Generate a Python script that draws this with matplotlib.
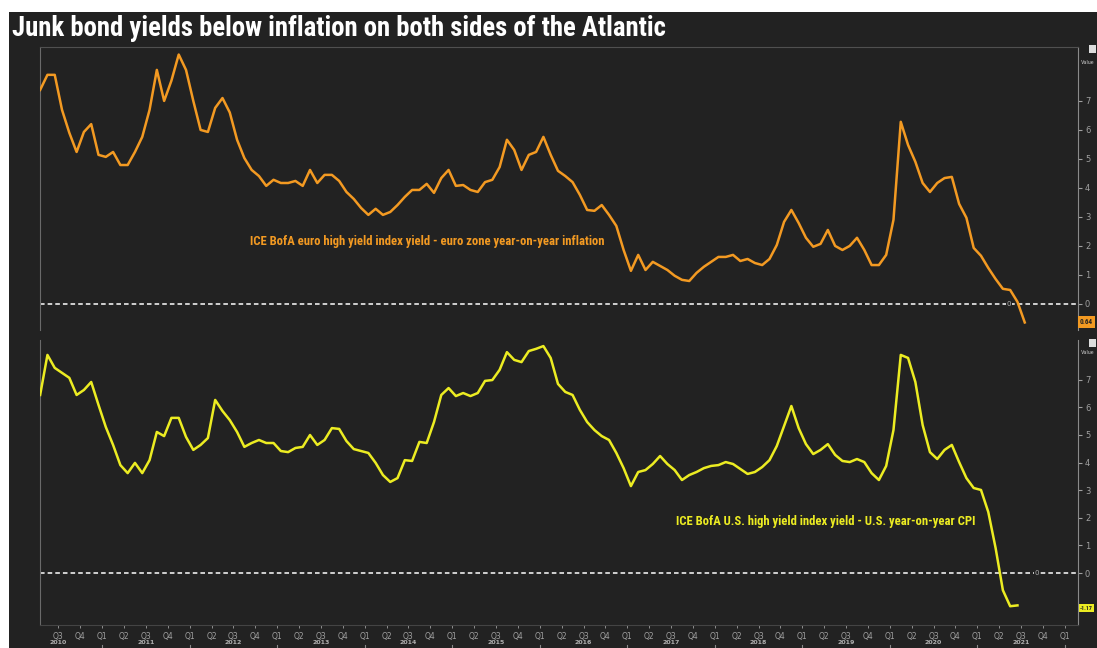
import matplotlib
matplotlib.use("Agg")
import matplotlib.pyplot as plt
import matplotlib.font_manager as fm
import matplotlib.transforms as mtransforms
from matplotlib.patches import Rectangle

# ---------------- data ----------------
title = "Junk bond yields below inflation on both sides of the Atlantic"
euro_label = "ICE BofA euro high yield index yield - euro zone year-on-year inflation"
us_label = "ICE BofA U.S. high yield index yield - U.S. year-on-year CPI"

start_year = 2010
start_month = 4  # April 2010, monthly observations

euro_spread = [
    7.38, 7.9, 7.9, 6.69, 5.9, 5.24, 5.93, 6.2, 5.14, 5.07,
    5.24, 4.79, 4.79, 5.24, 5.76, 6.69, 8.07, 7.0, 7.7, 8.6,
    8.07, 7.0, 6.0, 5.93, 6.76, 7.1, 6.6, 5.66, 5.03, 4.62,
    4.41, 4.07, 4.28, 4.17, 4.17, 4.24, 4.07, 4.62, 4.17, 4.45,
    4.45, 4.24, 3.86, 3.62, 3.31, 3.07, 3.28, 3.07, 3.17, 3.41,
    3.69, 3.93, 3.93, 4.14, 3.83, 4.34, 4.62, 4.07, 4.1, 3.93,
    3.86, 4.2, 4.28, 4.72, 5.66, 5.31, 4.62, 5.14, 5.24, 5.76,
    5.14, 4.59, 4.41, 4.2, 3.76, 3.24, 3.21, 3.41, 3.07, 2.69,
    1.86, 1.14, 1.69, 1.17, 1.45, 1.31, 1.17, 0.97, 0.83, 0.79,
    1.07, 1.28, 1.45, 1.62, 1.62, 1.69, 1.48, 1.55, 1.41, 1.34,
    1.55, 2.03, 2.83, 3.24, 2.79, 2.28, 1.97, 2.07, 2.55, 2.0,
    1.86, 2.0, 2.28, 1.86, 1.34, 1.34, 1.69, 2.9, 6.28, 5.48,
    4.9, 4.17, 3.86, 4.17, 4.34, 4.38, 3.45, 2.97, 1.93, 1.66,
    1.24, 0.86, 0.52, 0.48, 0.07, -0.64,
]

us_spread = [
    6.45, 7.9, 7.43, 7.25, 7.07, 6.45, 6.63, 6.92, 6.09, 5.29,
    4.64, 3.91, 3.62, 3.99, 3.62, 4.09, 5.11, 4.96, 5.62, 5.62,
    4.93, 4.46, 4.64, 4.89, 6.27, 5.87, 5.54, 5.11, 4.57, 4.71,
    4.82, 4.71, 4.71, 4.42, 4.38, 4.53, 4.57, 5.0, 4.64, 4.82,
    5.25, 5.22, 4.78, 4.49, 4.42, 4.35, 3.99, 3.55, 3.3, 3.44,
    4.09, 4.06, 4.75, 4.71, 5.47, 6.45, 6.7, 6.41, 6.52, 6.41,
    6.52, 6.96, 6.99, 7.36, 8.0, 7.72, 7.64, 8.04, 8.12, 8.22,
    7.79, 6.85, 6.56, 6.45, 5.91, 5.47, 5.18, 4.96, 4.82, 4.35,
    3.8, 3.15, 3.66, 3.73, 3.95, 4.24, 3.95, 3.73, 3.37, 3.55,
    3.66, 3.8, 3.88, 3.91, 4.02, 3.95, 3.77, 3.59, 3.66, 3.84,
    4.09, 4.6, 5.33, 6.05, 5.25, 4.67, 4.31, 4.46, 4.67, 4.28,
    4.06, 4.02, 4.13, 4.02, 3.62, 3.37, 3.88, 5.18, 7.9, 7.79,
    6.92, 5.36, 4.38, 4.13, 4.46, 4.64, 4.02, 3.44, 3.08, 3.01,
    2.21, 0.91, -0.62, -1.2, -1.17,
]

euro_last_label = "0.64"
us_last_label = "-1.17"
y_ticks = [0, 1, 2, 3, 4, 5, 6, 7]
quarter_names = ["Q1", "Q2", "Q3", "Q4"]
first_quarter = (2010, 3)
last_quarter = (2022, 1)

# ---------------- style ----------------
W, H, DPI = 1097, 648, 100
BG = "#222222"
ORANGE = "#f39a22"
YELLOW = "#ecec22"
GRID = "#6a6a6a"
TICK = "#a0a0a0"

names = {f.name for f in fm.fontManager.ttflist}
narrow = "DejaVu Sans"
for cand in ["Liberation Sans Narrow", "Roboto Condensed", "Open Sans Condensed", "Roboto"]:
    if cand in names:
        narrow = cand
        break

fig = plt.figure(figsize=(W / DPI, H / DPI), dpi=DPI)
fig.patch.set_facecolor("white")


def fx(x):
    return x / W


def fy(y):
    return 1 - y / H


fig.add_artist(Rectangle((fx(9), 0), 1 - fx(9), fy(12), transform=fig.transFigure,
                         facecolor=BG, edgecolor="none", zorder=0))

t = [start_year + (start_month - 1 + i + 0.5) / 12 for i in range(len(euro_spread))]
t_us = t[:len(us_spread)]

x_left, x_right = 2010.29, 2022.15

ax1 = fig.add_axes([fx(40), fy(330), (1078 - 40) / W, (330 - 47) / H])
ax2 = fig.add_axes([fx(40), fy(625), (1078 - 40) / W, (625 - 340) / H])

for ax in (ax1, ax2):
    ax.set_facecolor("none")
    ax.set_xlim(x_left, x_right)
    ax.yaxis.tick_right()
    ax.set_yticks(y_ticks)
    ax.set_yticklabels([str(v) for v in y_ticks])
    ax.tick_params(axis="y", colors=TICK, labelsize=6, length=3, pad=2, width=0.8)
    ax.spines["right"].set_color("#8a8a8a")
    ax.spines["left"].set_color(GRID)
    ax.spines["top"].set_color("#505050")
    ax.spines["bottom"].set_color("#444444")
    ax.axhline(0, color="white", lw=1.1, ls=(0, (3, 2)), zorder=2)

ax1.set_ylim(-0.9, 8.86)
ax2.set_ylim(-1.88, 8.44)
ax1.spines["bottom"].set_visible(False)
ax2.spines["top"].set_visible(False)
ax1.set_xticks([])

ax1.plot(t, euro_spread, color=ORANGE, lw=1.8, zorder=3, solid_joinstyle="round")
ax2.plot(t_us, us_spread, color=YELLOW, lw=1.8, zorder=3, solid_joinstyle="round")

# quarter ticks
qpos, qlab = [], []
y, q = first_quarter
while (y, q) <= last_quarter:
    qpos.append(y + (q - 1) / 4)
    qlab.append(quarter_names[q - 1])
    q += 1
    if q > 4:
        q, y = 1, y + 1
ax2.set_xticks(qpos)
ax2.set_xticklabels(qlab)
ax2.tick_params(axis="x", colors=TICK, labelsize=5.5, length=2, pad=3, width=0.6)

trans = mtransforms.blended_transform_factory(ax2.transData, ax2.transAxes)
for p, lab in zip(qpos, qlab):
    if lab == "Q1":
        ax2.plot([p, p], [-0.07, -0.1], color="#888888", lw=0.8, transform=trans, clip_on=False)
years = sorted({int(p) for p in qpos})
for yr in years:
    if first_quarter[0] <= yr and yr + 0.5 <= qpos[-1]:
        ax2.text(yr + 0.5, -0.062, str(yr), transform=trans, ha="center", va="center",
                 fontsize=4.5, fontweight="bold", color="#b0b0b0")

# zero-line labels
ax1.text(2021.36, 0, "0", color="#b0b0b0", fontsize=5, ha="center", va="center",
         bbox=dict(facecolor=BG, edgecolor="none", pad=0.5), zorder=4)
ax2.text(2021.68, 0, "0", color="#b0b0b0", fontsize=5, ha="center", va="center",
         bbox=dict(facecolor=BG, edgecolor="none", pad=0.5), zorder=4)

# right-side headers and last-value boxes
for ytop in (44, 338):
    fig.add_artist(Rectangle((fx(1089), fy(ytop + 9)), 7 / W, 8 / H, transform=fig.transFigure,
                             facecolor="#dddddd", edgecolor="none"))
v1 = fig.text(fx(1081), fy(63), "Value", color="#bbbbbb", fontsize=5, va="center", family=narrow)
v2 = fig.text(fx(1081), fy(353), "Value", color="#bbbbbb", fontsize=5, va="center", family=narrow)
b1 = fig.text(fx(1080), fy(322), euro_last_label, color="#222222", fontsize=5, va="center",
              fontweight="bold", family=narrow, bbox=dict(facecolor=ORANGE, edgecolor="none", pad=1.2))
b2 = fig.text(fx(1080), fy(608), us_last_label, color="#222222", fontsize=5, va="center",
              fontweight="bold", family=narrow, bbox=dict(facecolor=YELLOW, edgecolor="none", pad=1.2))

# texts
ttl = fig.text(fx(12), fy(28), title, color="white", fontsize=18, fontweight="bold",
               va="center", ha="left", family=narrow)
t1 = fig.text(fx(250), fy(241), euro_label, color=ORANGE, fontsize=6.5, fontweight="bold",
              va="center", ha="left", family=narrow)
t2 = fig.text(fx(676), fy(522), us_label, color=YELLOW, fontsize=6.5, fontweight="bold",
              va="center", ha="left", family=narrow)

fig.canvas.draw()
r = fig.canvas.get_renderer()
for txt, target in ((ttl, 653), (t1, 355), (t2, 300), (v1, 14), (v2, 14), (b1, 13), (b2, 13)):
    w = txt.get_window_extent(r).width
    txt.set_fontsize(txt.get_fontsize() * target / w)

fig.savefig("out.png", dpi=DPI, facecolor=fig.get_facecolor())
